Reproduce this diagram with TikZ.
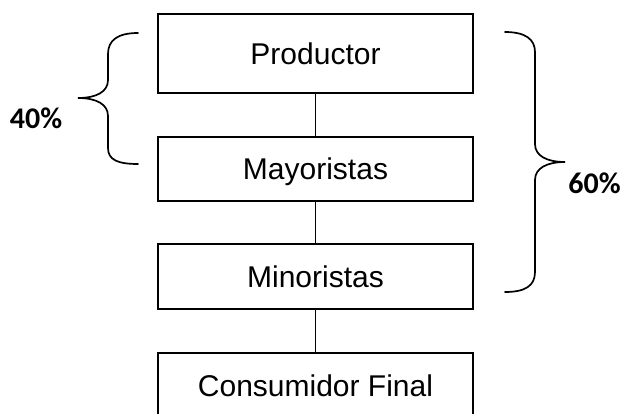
\documentclass[tikz,border=0pt]{standalone}
\usepackage{fontspec}
\setmainfont{Liberation Sans}
\newfontfamily\pctfont{Carlito}
\begin{document}
\begin{tikzpicture}[x=1pt,y=-1pt,
  box/.style={draw=black,line width=1.8pt,rectangle,minimum width=314.4pt,inner sep=0pt,
    text height=21.5pt,text depth=0pt,font=\fontsize{30}{36}\selectfont},
  link/.style={draw=black,line width=1.8pt},
  brace/.style={draw=black,line width=1.7pt,line cap=round},
  pct/.style={font=\pctfont\bfseries\fontsize{30}{36}\selectfont,inner sep=0pt,anchor=base}]
\useasboundingbox (0,0) rectangle (622,413);
\clip (0,0) rectangle (622,413);
\fill[white] (0,0) rectangle (622,413);
\node[box,minimum height=78.4pt] (p) at (315.5,53.5) {Productor};
\node[box,minimum height=64.3pt] (ma) at (315.5,168.85) {Mayoristas};
\node[box,minimum height=65pt] (mi) at (315.5,276.8) {Minoristas};
\node[box,minimum height=65.4pt] (c) at (315.5,386) {Consumidor Final};
\draw[link] (p.south) -- (ma.north);
\draw[link] (ma.south) -- (mi.north);
\draw[link] (mi.south) -- (c.north);
% left brace
\coordinate (lt) at (138,33);
\coordinate (ltip) at (78,98);
\coordinate (lb) at (138,164);
\draw[brace] (lt) .. controls (118,33) and (108,40) .. (108,54) -- (108,80)
  .. controls (108,92) and (96,98) .. (ltip)
  .. controls (96,98) and (108,104) .. (108,116) -- (108,148)
  .. controls (108,160) and (118,164) .. (lb);
% right brace
\coordinate (rt) at (505,32);
\coordinate (rtip) at (565,162);
\coordinate (rb) at (505,292);
\draw[brace] (rt) .. controls (525,32) and (535,39) .. (535,52) -- (535,144)
  .. controls (535,156) and (547,162) .. (rtip)
  .. controls (547,162) and (535,168) .. (535,180) -- (535,272)
  .. controls (535,286) and (525,292) .. (rb);
\node[pct] (l40) at (36,128) {40\%};
\node[pct] (l60) at (594.5,193) {60\%};
\end{tikzpicture}
\end{document}
